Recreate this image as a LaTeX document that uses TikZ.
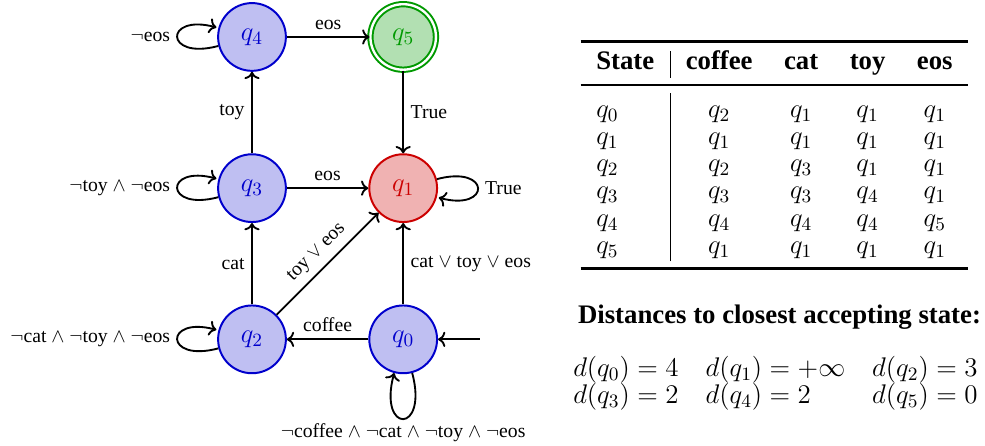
\RequirePackage{fix-cm}
\documentclass[tikz,border=0pt]{standalone}
\usepackage{amsmath}
\usepackage{amssymb}
\usepackage[no-math]{fontspec}
\setmainfont{Liberation Serif}
\usepackage{booktabs}
\usetikzlibrary{arrows.meta}
\setlength\heavyrulewidth{1.3pt}
\setlength\lightrulewidth{0.85pt}
\setlength\aboverulesep{3pt}
\setlength\belowrulesep{4pt}

\begin{document}
\begin{tikzpicture}[
  state/.style={circle, line width=1pt, minimum size=1.21cm, inner sep=0pt,
    font=\fontsize{13.6}{16}\selectfont},
  plain/.style={state, draw=blue!80!black, fill=blue!80!black!25, text=blue!80!black},
  dead/.style={state, draw=red!80!black, fill=red!80!black!30, text=red!80!black},
  accept/.style={state, draw=green!60!black, fill=green!60!black!30, text=green!60!black,
    double, double distance=1.2pt, minimum size=1.17cm},
  trans/.style={->, line width=0.95pt},
  big/.style={font=\fontsize{13.6}{13.8}\selectfont}
]
\useasboundingbox (0,0) rectangle (17.59,-7.964);
\def\xl{4.5}     % left column x
\def\xr{7.2}     % right column x
\def\yt{-0.66}   % top row y
\def\ym{-3.36}   % middle row y
\def\yb{-6.06}   % bottom row y
%% States
\node[plain]  (q4) at (\xl,\yt) {$q_4$};
\node[accept] (q5) at (\xr,\yt) {$q_5$};
\node[plain]  (q3) at (\xl,\ym) {$q_3$};
\node[dead]   (q1) at (\xr,\ym) {$q_1$};
\node[plain]  (q2) at (\xl,\yb) {$q_2$};
\node[plain]  (q0) at (\xr,\yb) {$q_0$};
\coordinate (start) at (8.57,\yb);
%% Transitions
\draw[trans] (start) -- (q0);
\draw[trans] (q4) -- (q5) node[midway, above] {eos};
\draw[trans] (q4) edge[loop left] node[left] {$\neg$eos} (q4);
\draw[trans] (q3) -- (q4) node[midway, left] {toy};
\draw[trans] (q5) -- (q1) node[midway, right] {True};
\draw[trans] (q3) -- (q1) node[midway, above] {eos};
\draw[trans] (q3) edge[loop left] node[left] {$\neg$toy $\wedge$ $\neg$eos} (q3);
\draw[trans] (q1) edge[loop right] node[right] {True} (q1);
\draw[trans] (q2) -- (q3) node[midway, left] {cat};
\draw[trans] (q2) -- (q1) node[midway, above, sloped] {toy $\vee$ eos};
\draw[trans] (q2) edge[loop left] node[left] {$\neg$cat $\wedge$ $\neg$toy $\wedge$ $\neg$eos} (q2);
\draw[trans] (q0) -- (q1) node[midway, right] {cat $\vee$ toy $\vee$ eos};
\draw[trans] (q0) -- (q2) node[midway, above] {coffee};
\draw[trans] (q0) edge[loop below, looseness=9]
  node[below, inner sep=2pt] {$\neg$coffee $\wedge$ $\neg$cat $\wedge$ $\neg$toy $\wedge$ $\neg$eos} (q0);
%% Transition table
\node[big, anchor=north, inner sep=0pt] (table) at (13.83,-0.714) {%
  \setlength\tabcolsep{8pt}%
  \begin{tabular}{l|cccc}
    \toprule
    \textbf{State} & \textbf{coffee} & \textbf{cat} & \textbf{toy} & \textbf{eos} \\
    \midrule
    \rule{0pt}{12.2pt}$q_0$ & $q_2$ & $q_1$ & $q_1$ & $q_1$ \\
    $q_1$ & $q_1$ & $q_1$ & $q_1$ & $q_1$ \\
    $q_2$ & $q_2$ & $q_3$ & $q_1$ & $q_1$ \\
    $q_3$ & $q_3$ & $q_3$ & $q_4$ & $q_1$ \\
    $q_4$ & $q_4$ & $q_4$ & $q_4$ & $q_5$ \\
    $q_5$ & $q_1$ & $q_1$ & $q_1$ & $q_1$ \\
    \bottomrule
  \end{tabular}};
%% Distances
\node[big, anchor=base, inner sep=0pt] (head) at (13.92,-5.77)
  {\textbf{Distances to closest accepting state:}};
\node[font=\fontsize{13.7}{13.8}\selectfont, anchor=base west, inner sep=0pt] (dist) at (10.23,-6.73)
  {$\begin{array}[t]{@{}l@{\quad}l@{\quad}l@{}}
    d(q_0) = 4 & d(q_1) = +\infty & d(q_2) = 3 \\[-1pt]
    d(q_3) = 2 & d(q_4) = 2 & d(q_5) = 0
  \end{array}$};
\end{tikzpicture}
\end{document}
